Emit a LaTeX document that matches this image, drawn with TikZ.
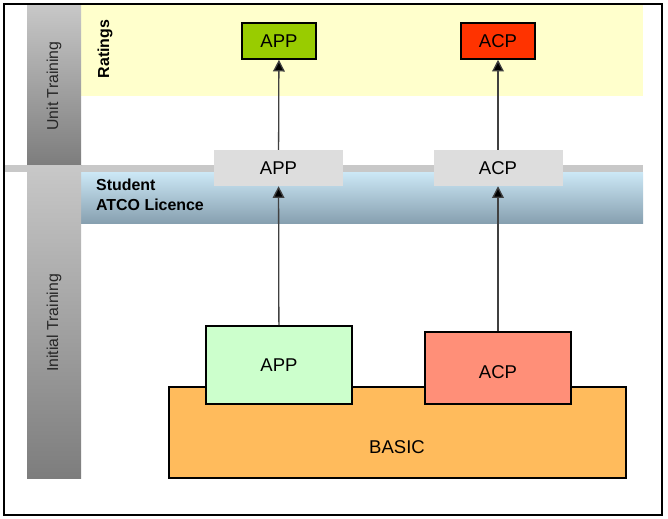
\documentclass[tikz,border=0pt]{standalone}
\usepackage{fontspec}
\setmainfont{Liberation Sans}
\usetikzlibrary{arrows.meta,positioning}
\definecolor{rtyellow}{RGB}{255,255,204}
\definecolor{rtgreen}{RGB}{153,204,0}
\definecolor{rtred}{RGB}{255,51,0}
\definecolor{lightgreen}{RGB}{204,255,204}
\definecolor{salmon}{RGB}{255,143,120}
\definecolor{basicorange}{RGB}{255,187,92}
\definecolor{licgray}{RGB}{221,221,221}
\definecolor{barlight}{RGB}{200,200,200}
\definecolor{bardark}{RGB}{125,125,125}
\definecolor{bluetop}{RGB}{204,232,246}
\definecolor{bluebot}{RGB}{135,160,176}
\definecolor{arrowgray}{RGB}{64,64,64}
\tikzset{
  boxfont/.style={font=\fontsize{15.8}{18}\selectfont},
  rating/.style={draw, line width=1.3pt, fill=#1, boxfont,
                 minimum width=2.22cm, minimum height=1.08cm, inner sep=0pt},
  licence/.style={fill=licgray, boxfont,
                  minimum width=3.87cm, minimum height=1.08cm, inner sep=0pt},
  course/.style={draw, line width=1.3pt, fill=#1, boxfont,
                 minimum width=4.38cm, inner sep=0pt},
  phase/.style={font=\fontsize{13.5}{16}\selectfont, text=black!85, rotate=90},
  band/.style={font=\fontsize{13.6}{17}\selectfont\bfseries, align=left},
  upflow/.style={draw=arrowgray, line width=1.1pt, -{Triangle[width=10pt,length=10pt,fill=black]}},
}

\begin{document}
\begin{tikzpicture}[x=0.03cm, y=-0.03cm]
  \useasboundingbox (0,0) rectangle (668,518);
  % Bands
  \fill[rtyellow] (81,4) rectangle (643,96);
  \fill[barlight] (4,165) rectangle (643,172);
  \shade[top color=bluetop, bottom color=bluebot] (81,172) rectangle (643,223);
  % Phase columns
  \shade[top color=barlight, bottom color=bardark] (27,4) rectangle (81,165);
  \shade[top color=barlight, bottom color=bardark] (27,165) rectangle (81,478);
  \node[phase] (unit) at (54,86) {Unit Training};
  \node[phase] (initial) at (54,323) {Initial Training};
  \node[band, rotate=90] (ratings) at (105,49) {Ratings};
  \node[band, anchor=west] (student) at (92,195) {Student\\ATCO Licence};

  % Basic course
  \node[draw, line width=1.3pt, fill=basicorange, minimum width=13.71cm,
        minimum height=2.73cm] (basic) at (397.5,432.5) {};
  \node[boxfont] (basictxt) at (397,447) {BASIC};
  \node[course=lightgreen, minimum height=2.34cm] (bapp) at (279,365) {APP};
  \node[course=salmon, minimum height=2.16cm,
        label={[boxfont, yshift=-0.12cm]center:ACP}] (bacp) at (498,368) {};

  % Student licence
  \node[licence] (mapp) at (278.5,168) {APP};
  \node[licence] (macp) at (498,168) {ACP};

  % Ratings
  \node[rating=rtgreen] (tapp) at (279,41) {APP};
  \node[rating=rtred] (tacp) at (498,41) {ACP};

  % Arrows
  \draw[upflow] (bapp) -- (mapp);
  \draw[upflow] (mapp) -- (tapp);
  \draw[upflow] (bacp) -- (macp);
  \draw[upflow] (macp) -- (tacp);

  % Frame
  \draw[line width=1.3pt] (4,4) rectangle (662,515);
\end{tikzpicture}
\end{document}
